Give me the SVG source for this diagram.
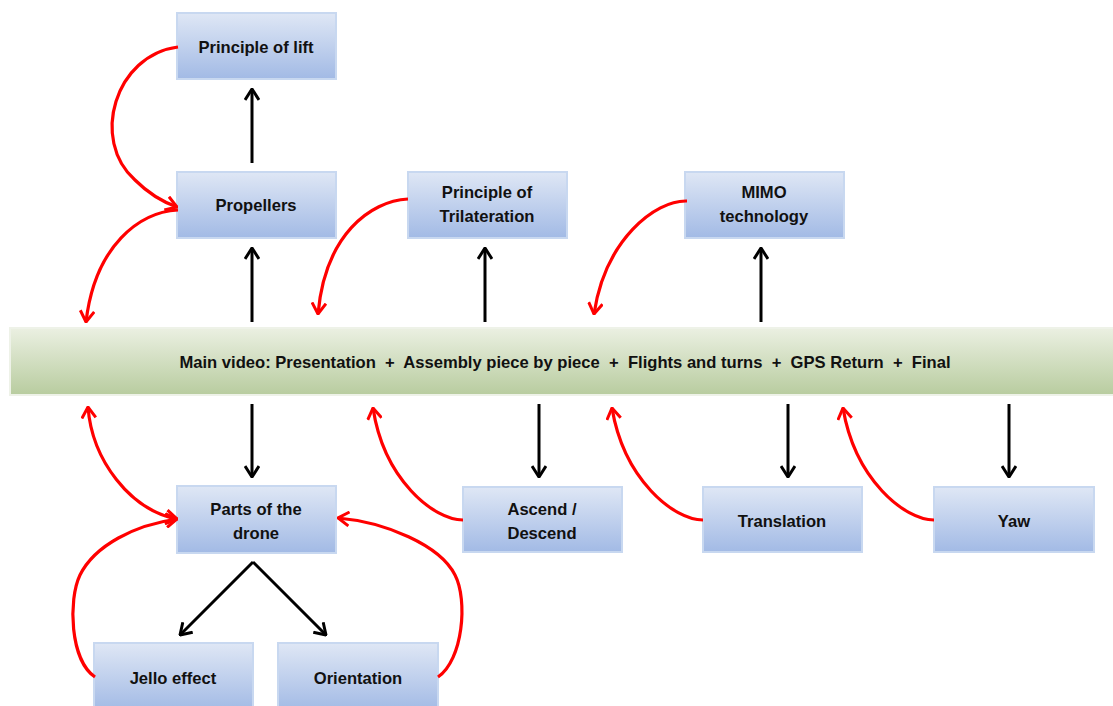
<svg xmlns="http://www.w3.org/2000/svg" width="1113" height="706" viewBox="0 0 1113 706">
<defs>
<linearGradient id="gb" x1="0" y1="0" x2="0" y2="1">
<stop offset="0" stop-color="#dfe7f5"/>
<stop offset="1" stop-color="#a2bae5"/>
</linearGradient>
<linearGradient id="gg" x1="0" y1="0" x2="0" y2="1">
<stop offset="0" stop-color="#ebf0e2"/>
<stop offset="1" stop-color="#b8cc9f"/>
</linearGradient>
<marker id="ak" viewBox="0 0 13 16" refX="12" refY="8" markerWidth="13" markerHeight="16" markerUnits="userSpaceOnUse" orient="auto">
<path d="M1,1 L12,8 L1,15" fill="none" stroke="#000" stroke-width="3"/>
</marker>
<marker id="ar" viewBox="0 0 13 16" refX="12" refY="8" markerWidth="13" markerHeight="16" markerUnits="userSpaceOnUse" orient="auto-start-reverse">
<path d="M1,1 L12,8 L1,15" fill="none" stroke="#f00" stroke-width="3"/>
</marker>
</defs>
<style>
.box{fill:url(#gb);stroke:#c8d8f0;stroke-width:2}
.bar{fill:url(#gg);stroke:#eef2e8;stroke-width:2}
text{font-family:"Liberation Sans",Arial,sans-serif;font-weight:bold;font-size:16.6px;fill:#111;text-anchor:middle;dominant-baseline:central;white-space:pre}
.k{fill:none;stroke:#000;stroke-width:3;marker-end:url(#ak)}
.r{fill:none;stroke:#f00;stroke-width:3.2;marker-end:url(#ar)}
</style>
<rect width="1113" height="706" fill="#fff"/>
<g id="main">
<rect class="bar" x="10" y="328" width="1110" height="67"/>
<text x="565" y="362">Main video: Presentation  +  Assembly piece by piece  +  Flights and turns  +  GPS Return  +  Final</text>
</g>
<g id="lift"><rect class="box" x="177" y="13" width="159" height="66"/><text x="256" y="47">Principle of lift</text></g>
<g id="propellers"><rect class="box" x="177" y="172" width="159" height="66"/><text x="256" y="205">Propellers</text></g>
<g id="trilateration"><rect class="box" x="408" y="172" width="159" height="66"/><text x="487" y="192">Principle of</text><text x="487" y="216">Trilateration</text></g>
<g id="mimo"><rect class="box" x="685" y="172" width="159" height="66"/><text x="764" y="192">MIMO</text><text x="764" y="216">technology</text></g>
<g id="parts"><rect class="box" x="177" y="486" width="159" height="67"/><text x="256" y="509">Parts of the</text><text x="256" y="533">drone</text></g>
<g id="ascend"><rect class="box" x="463" y="487" width="159" height="65"/><text x="542" y="509">Ascend /</text><text x="542" y="533">Descend</text></g>
<g id="translation"><rect class="box" x="703" y="487" width="159" height="65"/><text x="782" y="521">Translation</text></g>
<g id="yaw"><rect class="box" x="934" y="487" width="160" height="65"/><text x="1014" y="521">Yaw</text></g>
<g id="jello"><rect class="box" x="94" y="643" width="159" height="68"/><text x="173" y="678">Jello effect</text></g>
<g id="orientation"><rect class="box" x="278" y="643" width="160" height="68"/><text x="358" y="678">Orientation</text></g>
<g id="connectors">
<path class="k" d="M252,163 L252,89"/>
<path class="k" d="M252,322 L252,248"/>
<path class="k" d="M485,322 L485,248"/>
<path class="k" d="M761,322 L761,248"/>
<path class="k" d="M252,404 L252,477"/>
<path class="k" d="M539,404 L539,477"/>
<path class="k" d="M788,404 L788,477"/>
<path class="k" d="M1009,404 L1009,477"/>
<path class="k" d="M253,562 L180,635"/>
<path class="k" d="M253,562 L326,635"/>
<path class="r" d="M178,47 C115,55 90,140 135,180 C150,195 163,202 177,207"/>
<path class="r" d="M178,210 C140,212 95,245 86,322"/>
<path class="r" d="M408,199 C370,201 325,235 318,314"/>
<path class="r" d="M687,201 C655,200 605,240 594,314"/>
<path class="r" d="M88,407 C92,460 130,510 177,519" style="marker-start:url(#ar)"/>
<path class="r" d="M95,677 C70,660 68,600 80,575 C95,545 135,525 177,519"/>
<path class="r" d="M438,677 C463,660 468,600 455,575 C440,545 385,522 338,518"/>
<path class="r" d="M463,520 C434,520 384,480 373,408"/>
<path class="r" d="M703,520 C674,520 624,480 612,408"/>
<path class="r" d="M934,520 C905,520 855,480 843,408"/>
</g>
</svg>
